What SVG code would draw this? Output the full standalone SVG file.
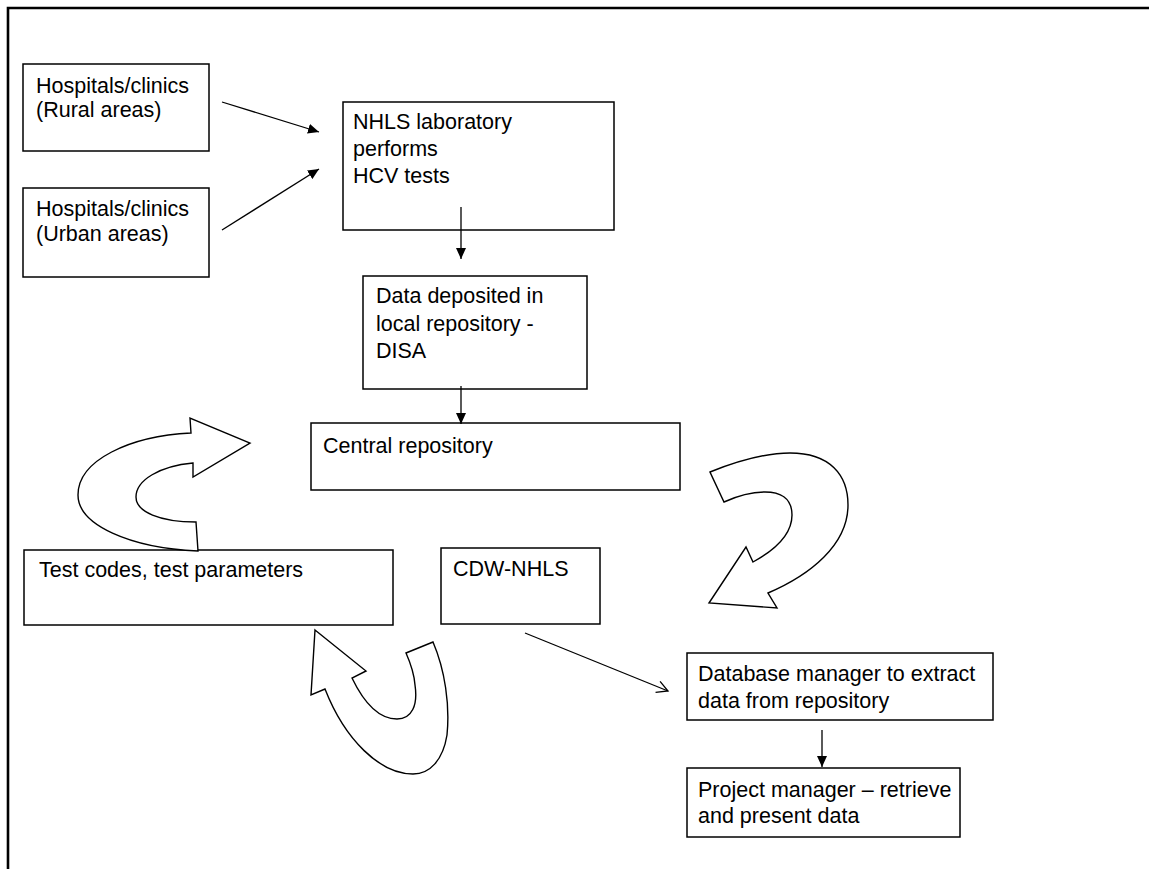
<svg xmlns="http://www.w3.org/2000/svg" width="1149" height="869" viewBox="0 0 1149 869">
<style>
.box{fill:#fff;stroke:#000;stroke-width:1.5}
.t{font-family:"Liberation Sans",Arial,sans-serif;font-size:21.5px;fill:#000}
.c{stroke:#000;stroke-width:1.3;fill:none}
.blk{fill:#fff;stroke:#000;stroke-width:1.4;stroke-linejoin:miter}
</style>
<defs>
<marker id="ah" markerWidth="12" markerHeight="10" refX="11" refY="5" orient="auto" markerUnits="userSpaceOnUse">
<path d="M0,0 L11,5 L0,10 Z" fill="#000"/>
</marker>
<marker id="ao" markerWidth="14" markerHeight="14" refX="12" refY="7" orient="auto" markerUnits="userSpaceOnUse">
<path d="M1,1 L12,7 L1,13" fill="none" stroke="#000" stroke-width="1.3"/>
</marker>
</defs>
<rect width="1149" height="869" fill="#fff"/>
<g id="frame"><path d="M8,869 L8,8 L1149,8" fill="none" stroke="#000" stroke-width="2.6"/></g>

<g id="rural"><rect class="box" x="23" y="64" width="186" height="87"/>
<text class="t" x="36" y="93">Hospitals/clinics</text><text class="t" x="36" y="117">(Rural areas)</text></g>
<g id="urban"><rect class="box" x="23" y="188" width="186" height="89"/>
<text class="t" x="36" y="216">Hospitals/clinics</text><text class="t" x="36" y="241">(Urban areas)</text></g>
<g id="nhls"><rect class="box" x="343" y="102" width="271" height="128"/>
<text class="t" x="353" y="129">NHLS laboratory</text><text class="t" x="353" y="156">performs</text><text class="t" x="353" y="183">HCV tests</text></g>
<g id="data"><rect class="box" x="363" y="276" width="224" height="113"/>
<text class="t" x="376" y="303">Data deposited in</text><text class="t" x="376" y="331">local repository -</text><text class="t" x="376" y="358">DISA</text></g>
<g id="central"><rect class="box" x="311" y="423" width="369" height="67"/>
<text class="t" x="323" y="453">Central repository</text></g>
<g id="testcodes"><rect class="box" x="24" y="550" width="369" height="75"/>
<text class="t" x="39" y="577">Test codes, test parameters</text></g>
<g id="cdw"><rect class="box" x="441" y="548" width="159" height="76"/>
<text class="t" x="453" y="576">CDW-NHLS</text></g>
<g id="dbm"><rect class="box" x="687" y="653" width="306" height="67"/>
<text class="t" x="698" y="681">Database manager to extract</text><text class="t" x="698" y="708">data from repository</text></g>
<g id="pm"><rect class="box" x="687" y="768" width="273" height="69"/>
<text class="t" x="698" y="797">Project manager – retrieve</text><text class="t" x="698" y="823">and present data</text></g>

<g id="connectors">
<line class="c" x1="222" y1="102" x2="319" y2="132" marker-end="url(#ah)"/>
<line class="c" x1="222" y1="230" x2="319" y2="169" marker-end="url(#ah)"/>
<line class="c" x1="461" y1="207" x2="461" y2="259" marker-end="url(#ah)"/>
<line class="c" x1="461" y1="386" x2="461" y2="424" marker-end="url(#ah)"/>
<line class="c" x1="525" y1="633" x2="668" y2="691" marker-end="url(#ao)"/>
<line class="c" x1="822" y1="730" x2="822" y2="767" marker-end="url(#ah)"/>
<path class="blk" d="M191,433 L190,418 L250,443 L193,477 L193,463 C160,466 136,480 136,497 C136,512 160,522 196,522 L198,551 C130,548 78,525 78,495 C78,460 130,436 191,433 Z"/>
<path class="blk" d="M710,472 C740,460 770,453 790,453 C830,453 848,475 848,505 C848,545 810,575 768,593 L777,608 L709,603 L746,547 L753,562 C775,550 792,535 792,515 C792,498 780,492 765,492 C750,492 735,497 724,502 Z"/>
<path class="blk" d="M315,630 L366,671 L352,678 C365,705 380,719 397,719 C412,719 418,705 415,685 C414,672 410,662 406,653 L433,642 C445,670 450,705 447,735 C443,760 430,774 413,774 C380,774 345,740 325,689 L311,695 Z"/>
</g>
</svg>
